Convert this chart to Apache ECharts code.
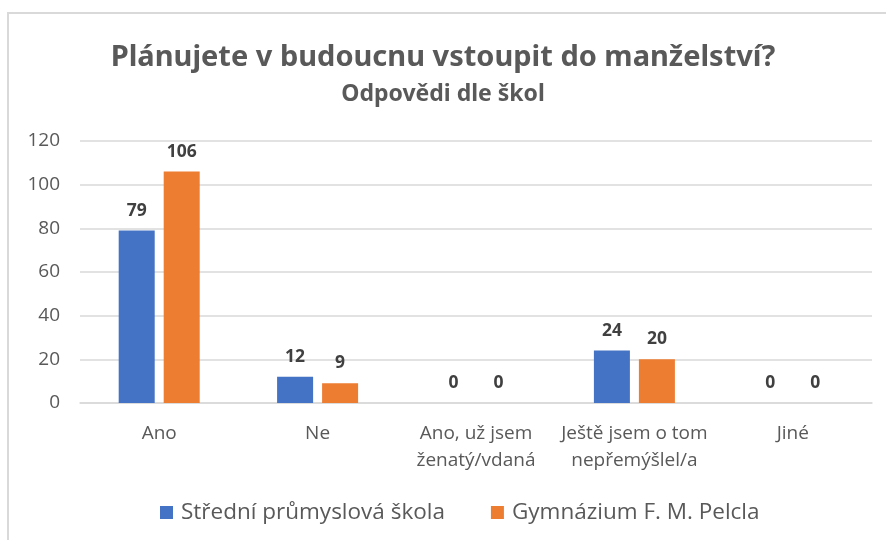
<!DOCTYPE html>
<html>
<head>
<meta charset="utf-8">
<script src="https://cdn.jsdelivr.net/npm/echarts@6/dist/echarts.min.js"></script>
<style>
  html, body { margin: 0; padding: 0; background: #fff; }
  #frame {
    position: absolute; left: 7px; top: 12px; width: 900px; height: 560px;
    border-top: 2px solid #d9d9d9; border-left: 2px solid #d9d9d9;
  }
  #chart { position: absolute; left: 0; top: 0; width: 886px; height: 540px; }
</style>
</head>
<body>
<div id="frame"></div>
<div id="chart"></div>
<script>
const categories = ['Ano', 'Ne', 'Ano, už jsem\nženatý/vdaná', 'Ještě jsem o tom\nnepřemýšlel/a', 'Jiné']
const seriesNames = ['Střední průmyslová škola', 'Gymnázium F. M. Pelcla']
const spsValues = [79, 12, 0, 24, 0]
const gymValues = [106, 9, 0, 20, 0]
const yTicks = [0, 20, 40, 60, 80, 100, 120]

const font = '"Open Sans", "Noto Sans", sans-serif'
const titleFont = '"Noto Sans", "Open Sans", sans-serif'

const chart = echarts.init(document.getElementById('chart'))

const labelStyle = {
  show: true,
  position: 'top',
  distance: 11,
  color: '#404040',
  fontWeight: 'bold',
  fontSize: 17.5,
  fontFamily: font
}

const option = {
  animation: false,
  color: ['#4472C4', '#ED7D31'],
  title: [
    {
      text: 'Plánujete v budoucnu vstoupit do manželství?',
      left: 'center',
      top: 38,
      textStyle: { color: '#595959', fontSize: 29, fontWeight: 'bold', fontFamily: titleFont }
    },
    {
      text: 'Odpovědi dle škol',
      left: 'center',
      top: 78,
      textStyle: { color: '#595959', fontSize: 23, fontWeight: 'bold', fontFamily: titleFont }
    }
  ],
  legend: {
    bottom: 11,
    left: 155,
    itemWidth: 13,
    itemHeight: 13,
    itemGap: 46,
    icon: 'rect',
    textStyle: { color: '#595959', fontSize: 22.5, fontFamily: font, padding: [0, 0, 0, 3] },
    data: seriesNames
  },
  grid: { left: 80, right: 14, top: 141, bottom: 137 },
  xAxis: {
    type: 'category',
    data: categories,
    axisLine: { lineStyle: { color: '#d9d9d9', width: 1.5 } },
    axisTick: { show: false },
    axisLabel: { color: '#595959', fontSize: 19, fontFamily: font, margin: 17, lineHeight: 27, interval: 0 }
  },
  yAxis: {
    type: 'value',
    min: yTicks[0],
    max: yTicks[yTicks.length - 1],
    interval: yTicks[1] - yTicks[0],
    axisLine: { show: false },
    axisTick: { show: false },
    axisLabel: { color: '#595959', fontSize: 19, fontFamily: font, margin: 20 },
    splitLine: { lineStyle: { color: '#d9d9d9', width: 1.5 } }
  },
  series: [
    {
      name: seriesNames[0],
      type: 'bar',
      data: spsValues,
      barWidth: 36,
      barGap: '25%',
      label: labelStyle
    },
    {
      name: seriesNames[1],
      type: 'bar',
      data: gymValues,
      barWidth: 36,
      barGap: '25%',
      label: labelStyle
    }
  ]
}

chart.setOption(option)
</script>
</body>
</html>
